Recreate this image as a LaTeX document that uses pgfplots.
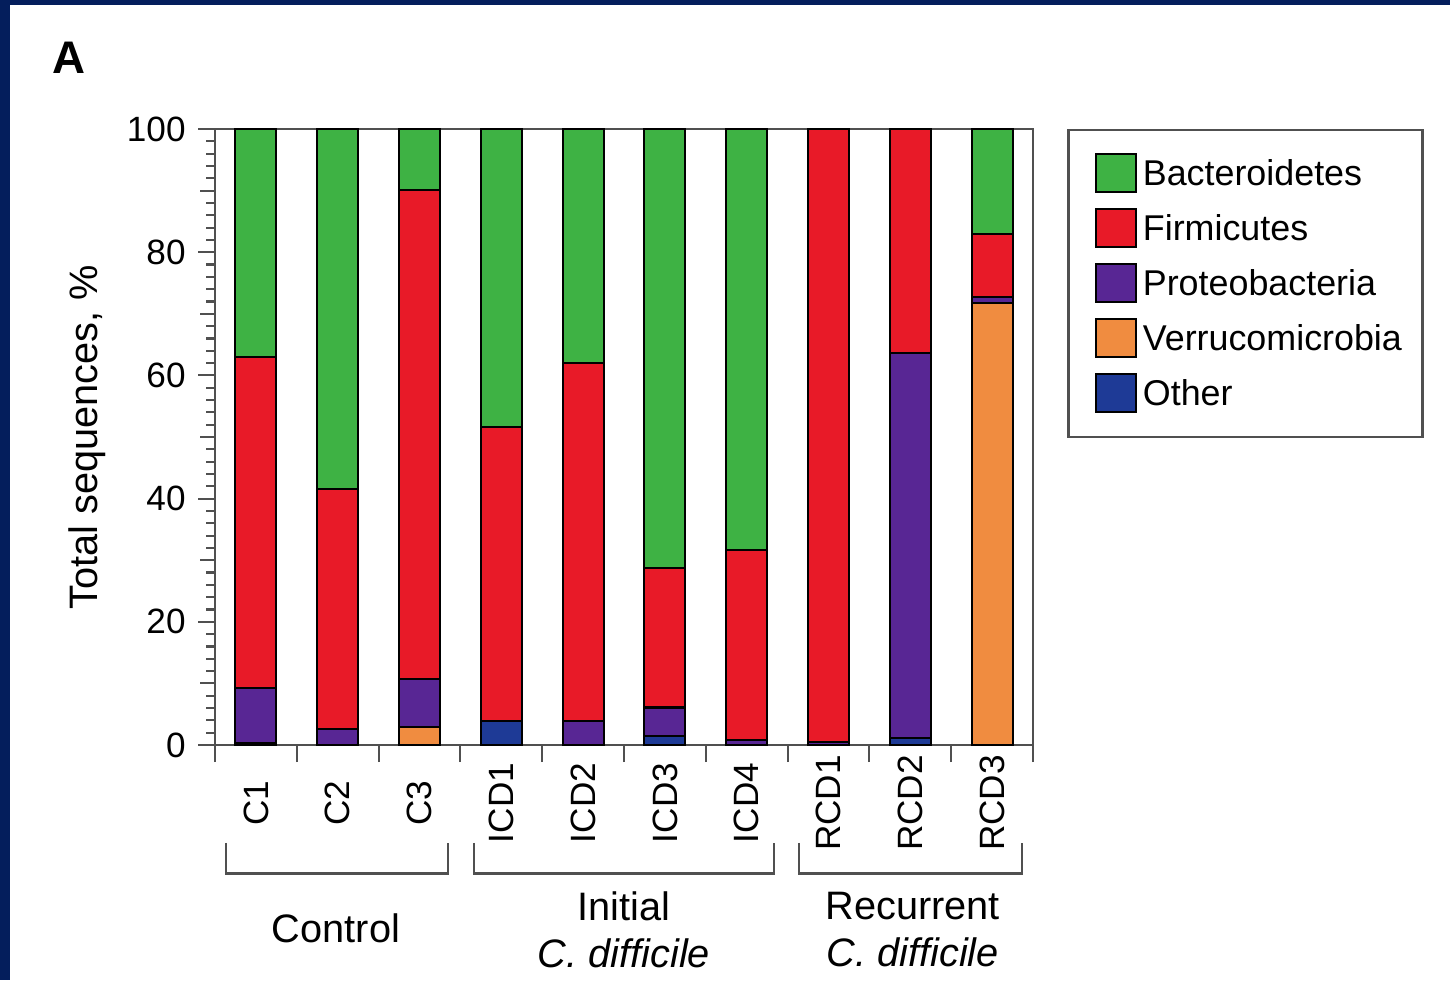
\documentclass[border=0pt]{standalone}
\usepackage{pgfplots}
\usepackage{pgfplotstable}
\pgfplotsset{compat=1.18}
\usepackage{fontspec}
\setmainfont{Liberation Sans}
\definecolor{cBact}{RGB}{62,178,68}
\definecolor{cFirm}{RGB}{232,26,40}
\definecolor{cProt}{RGB}{88,38,148}
\definecolor{cVerr}{RGB}{240,140,64}
\definecolor{cOther}{RGB}{30,58,150}
\definecolor{navy}{RGB}{4,30,92}
\definecolor{axgray}{RGB}{80,80,80}

\pgfplotstableread{
x other verr prot firm bact
0 0.3 0    8.9  53.8 37.0
1 0   0    2.6  39.0 58.4
2 0   2.9  7.8  79.4 9.9
3 3.9 0    0    47.7 48.4
4 0   0    3.9  58.1 38.0
5 1.4 0    4.7  22.6 71.3
6 0   0    0.8  30.9 68.3
7 0   0    0.5  99.5 0
8 1.2 0    62.4 36.4 0
9 0   71.8 0.9  10.3 17.0
}\datatable

\pgfplotsset{sqlegend/.style={legend image code/.code={\path (-0.1cm,0cm);\draw[##1,yshift=0.05em] (0cm,-0.19cm) rectangle (0.40cm,0.19cm);}}}

\begin{document}
\begin{tikzpicture}
\fill[navy] (0,0) rectangle (14.5,9.8);
\fill[white] (0.10,0) rectangle (14.5,9.75);
\node[anchor=base west, inner sep=0pt, font=\bfseries\fontsize{13}{15}\selectfont] at (0.52,9.07) {A};
\begin{axis}[
  at={(2.15cm,2.35cm)}, anchor=south west,
  scale only axis, width=8.18cm, height=6.16cm,
  xmin=-0.5, xmax=9.5, ymin=0, ymax=100,
  ybar stacked, bar width=0.41cm,
  clip=false,
  axis line style={axgray, line width=0.8pt},
  tick align=outside, tick pos=left,
  every tick/.style={axgray, line width=0.6pt},
  xtick={-0.5,0.5,...,9.5}, xticklabels={},
  major tick length=0.17cm, minor tick length=0.09cm,
  extra x ticks={0,1,2,3,4,5,6,7,8,9},
  extra x tick labels={C1,C2,C3,ICD1,ICD2,ICD3,ICD4,RCD1,RCD2,RCD3},
  extra x tick style={major tick length=0pt, tick style={draw=none},
     xticklabel style={yshift=-0.58cm, rotate=90, anchor=center}},
  ytick={0,20,...,100},
  minor y tick num=9,
  extra y ticks={10,30,50,70,90}, extra y tick labels={},
  extra y tick style={major tick length=0.15cm},
  /pgf/number format/assume math mode=true,
  ticklabel style={font=\fontsize{10}{12}\selectfont},
  every axis y label/.style={at={(axis description cs:-0.156,0.5)}, rotate=90, anchor=center},
  ylabel={Total sequences, \%},
  label style={font=\fontsize{11.3}{13}\selectfont},
  every axis plot/.append style={draw=black, line width=0.6pt, sqlegend},
  reverse legend,
  legend cell align=left,
  legend style={at={(1.0416,1.0)}, anchor=north west, draw=axgray, line width=0.7pt,
     font=\fontsize{10.2}{12}\selectfont, row sep=0.14cm, column sep=0.02cm,
     inner xsep=0.17cm, inner ysep=0.23cm, nodes={inner sep=1pt}},
]
\addplot[fill=cOther] table[x=x,y=other]{\datatable};
\addlegendentry{Other}
\addplot[fill=cVerr] table[x=x,y=verr]{\datatable};
\addlegendentry{Verrucomicrobia}
\addplot[fill=cProt] table[x=x,y=prot]{\datatable};
\addlegendentry{Proteobacteria}
\addplot[fill=cFirm] table[x=x,y=firm]{\datatable};
\addlegendentry{Firmicutes}
\addplot[fill=cBact] table[x=x,y=bact]{\datatable};
\addlegendentry{Bacteroidetes}

\draw[axgray, line width=0.8pt] (axis cs:-0.366,-15.9) -- (axis cs:-0.366,-20.8) -- (axis cs:2.348,-20.8) -- (axis cs:2.348,-15.9);
\draw[axgray, line width=0.8pt] (axis cs:2.666,-15.9) -- (axis cs:2.666,-20.8) -- (axis cs:6.334,-20.8) -- (axis cs:6.334,-15.9);
\draw[axgray, line width=0.8pt] (axis cs:6.639,-15.9) -- (axis cs:6.639,-20.8) -- (axis cs:9.366,-20.8) -- (axis cs:9.366,-15.9);
\node[anchor=center, font=\fontsize{11.3}{13}\selectfont] at (axis cs:0.979,-29.7) {Control};
\node[anchor=center, align=center, font=\fontsize{11.3}{13.4}\selectfont] at (axis cs:4.5,-30.0) {Initial\\\textit{C. difficile}};
\node[anchor=center, align=center, font=\fontsize{11.3}{13.4}\selectfont] at (axis cs:8.03,-30.0) {Recurrent\\\textit{C. difficile}};
\end{axis}
\pgfresetboundingbox
\useasboundingbox (0,0) rectangle (14.5,9.8);
\end{tikzpicture}
\end{document}
